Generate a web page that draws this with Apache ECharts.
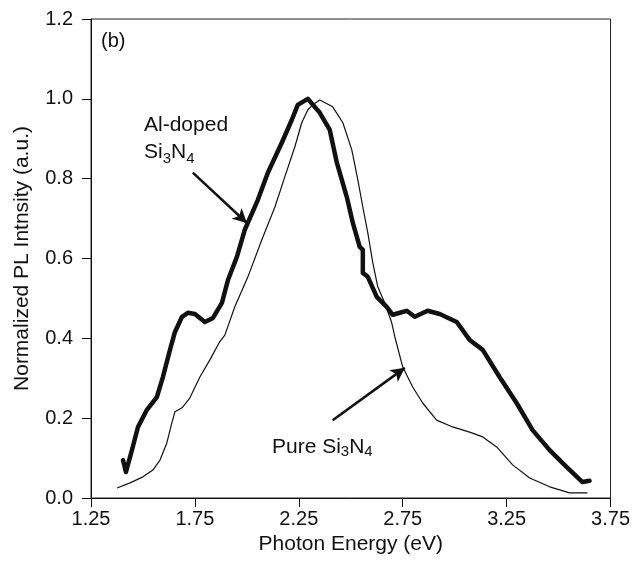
<!DOCTYPE html>
<html>
<head>
<meta charset="utf-8">
<script src="https://cdn.jsdelivr.net/npm/echarts@6/dist/echarts.min.js"></script>
<style>
  html, body { margin: 0; padding: 0; background: #fff; }
  #chart { width: 633px; height: 562px; }
</style>
</head>
<body>
<div id="chart"></div>
<script>
// Al-doped Si3N4 (thick curve)
const alEnergy = [1.404, 1.418, 1.447, 1.476, 1.519, 1.567, 1.596, 1.630, 1.654, 1.688, 1.716, 1.750,
  1.798, 1.837, 1.880, 1.909, 1.952, 1.990, 2.053, 2.101, 2.168, 2.216, 2.245, 2.293,
  2.351, 2.399, 2.433, 2.481, 2.510, 2.543, 2.558, 2.558, 2.582, 2.625, 2.673, 2.702, 2.736,
  2.769, 2.808, 2.870, 2.928, 3.010, 3.072, 3.135, 3.216, 3.298, 3.375, 3.457, 3.538, 3.615, 3.649]
const alIntensity = [0.095, 0.065, 0.120, 0.178, 0.221, 0.253, 0.303, 0.371, 0.416, 0.454, 0.464, 0.461,
  0.441, 0.451, 0.489, 0.546, 0.604, 0.672, 0.747, 0.815, 0.890, 0.947, 0.985, 1.000,
  0.965, 0.922, 0.840, 0.754, 0.689, 0.629, 0.622, 0.564, 0.554, 0.504, 0.479, 0.459, 0.464,
  0.469, 0.454, 0.469, 0.461, 0.441, 0.396, 0.371, 0.303, 0.238, 0.170, 0.120, 0.078, 0.040, 0.043]

// Pure Si3N4 (thin curve)
const pureEnergy = [1.375, 1.438, 1.500, 1.548, 1.582, 1.615, 1.639, 1.654, 1.688, 1.726, 1.774, 1.822,
  1.870, 1.894, 1.942, 2.005, 2.072, 2.135, 2.183, 2.231, 2.264, 2.293, 2.317, 2.351, 2.413,
  2.462, 2.505, 2.534, 2.558, 2.582, 2.606, 2.630, 2.663, 2.697, 2.712, 2.750, 2.798, 2.846,
  2.913, 2.990, 3.072, 3.135, 3.202, 3.279, 3.361, 3.457, 3.553, 3.639]
const pureIntensity = [0.025, 0.038, 0.053, 0.070, 0.095, 0.138, 0.188, 0.216, 0.226, 0.251, 0.303, 0.346,
  0.392, 0.408, 0.479, 0.554, 0.647, 0.729, 0.805, 0.880, 0.940, 0.972, 0.985, 0.997, 0.980,
  0.940, 0.872, 0.797, 0.729, 0.664, 0.589, 0.529, 0.489, 0.439, 0.404, 0.328, 0.278, 0.238,
  0.195, 0.178, 0.165, 0.153, 0.128, 0.083, 0.050, 0.028, 0.013, 0.013]

const xMin = 1.25, xMax = 3.75, xStep = 0.5
const yMin = 0, yMax = 1.2, yStep = 0.2

const font = 'Liberation Sans, Arial, Helvetica, sans-serif'

const zip = (xs, ys) => xs.map((x, i) => [x, ys[i]])

const chart = echarts.init(document.getElementById('chart'), null, { renderer: 'canvas' })

// annotation arrow, drawn in data coordinates
const arrowLine = (from, to) => ({
  silent: true,
  symbol: ['none', 'arrow'],
  symbolSize: [11, 14],
  lineStyle: { color: '#111', width: 2.5, type: 'solid' },
  label: { show: false },
  data: [[{ coord: from }, { coord: to }]]
})

const subStyle = { fontFamily: font, fontSize: 15, verticalAlign: 'bottom', padding: [9, 0, 0, 0], fill: '#111' }

chart.setOption({
  animation: false,
  backgroundColor: '#fff',
  grid: {
    left: 91, right: 22, top: 19, bottom: 64,
    show: true, borderColor: '#222', borderWidth: 1
  },
  xAxis: {
    type: 'value',
    min: xMin, max: xMax, interval: xStep,
    name: 'Photon Energy (eV)',
    nameLocation: 'middle',
    nameGap: 31,
    nameTextStyle: { fontFamily: font, fontSize: 21, color: '#111' },
    axisLine: { show: true, lineStyle: { color: '#111', width: 1 } },
    axisTick: { show: true, inside: false, length: 9, lineStyle: { color: '#111' } },
    axisLabel: { fontFamily: font, fontSize: 20, color: '#111', margin: 11,
      formatter: v => v.toFixed(2) },
    splitLine: { show: false }
  },
  yAxis: {
    type: 'value',
    min: yMin, max: yMax, interval: yStep,
    name: 'Normalized PL Intnsity (a.u.)',
    nameLocation: 'middle',
    nameGap: 58,
    nameTextStyle: { fontFamily: font, fontSize: 21, color: '#111' },
    axisLine: { show: true, lineStyle: { color: '#111', width: 1 } },
    axisTick: { show: true, inside: false, length: 9, lineStyle: { color: '#111' } },
    axisLabel: { fontFamily: font, fontSize: 20, color: '#111', margin: 18,
      formatter: v => v.toFixed(1) },
    splitLine: { show: false }
  },
  series: [
    {
      name: 'Pure Si3N4',
      type: 'line',
      data: zip(pureEnergy, pureIntensity),
      showSymbol: false,
      lineStyle: { color: '#111', width: 1.2 },
      markLine: arrowLine([2.413, 0.195], [2.760, 0.326])
    },
    {
      name: 'Al-doped Si3N4',
      type: 'line',
      data: zip(alEnergy, alIntensity),
      showSymbol: false,
      lineStyle: { color: '#111', width: 4.5, cap: 'round', join: 'round' },
      markLine: arrowLine([1.740, 0.815], [2.000, 0.689])
    }
  ],
  graphic: [
    {
      type: 'text', left: 101, top: 31,
      style: { text: '(b)', font: '20px ' + font, fill: '#111' }
    },
    {
      type: 'text', left: 144, top: 112,
      style: {
        text: 'Al-doped\nSi{sub|3}N{sub|4}',
        fontFamily: font, fontSize: 21, lineHeight: 27, fill: '#111',
        rich: { sub: subStyle }
      }
    },
    {
      type: 'text', left: 272, top: 435,
      style: {
        text: 'Pure Si{sub|3}N{sub|4}',
        fontFamily: font, fontSize: 21, lineHeight: 24, fill: '#111',
        rich: { sub: subStyle }
      }
    }
  ]
})
</script>
</body>
</html>
